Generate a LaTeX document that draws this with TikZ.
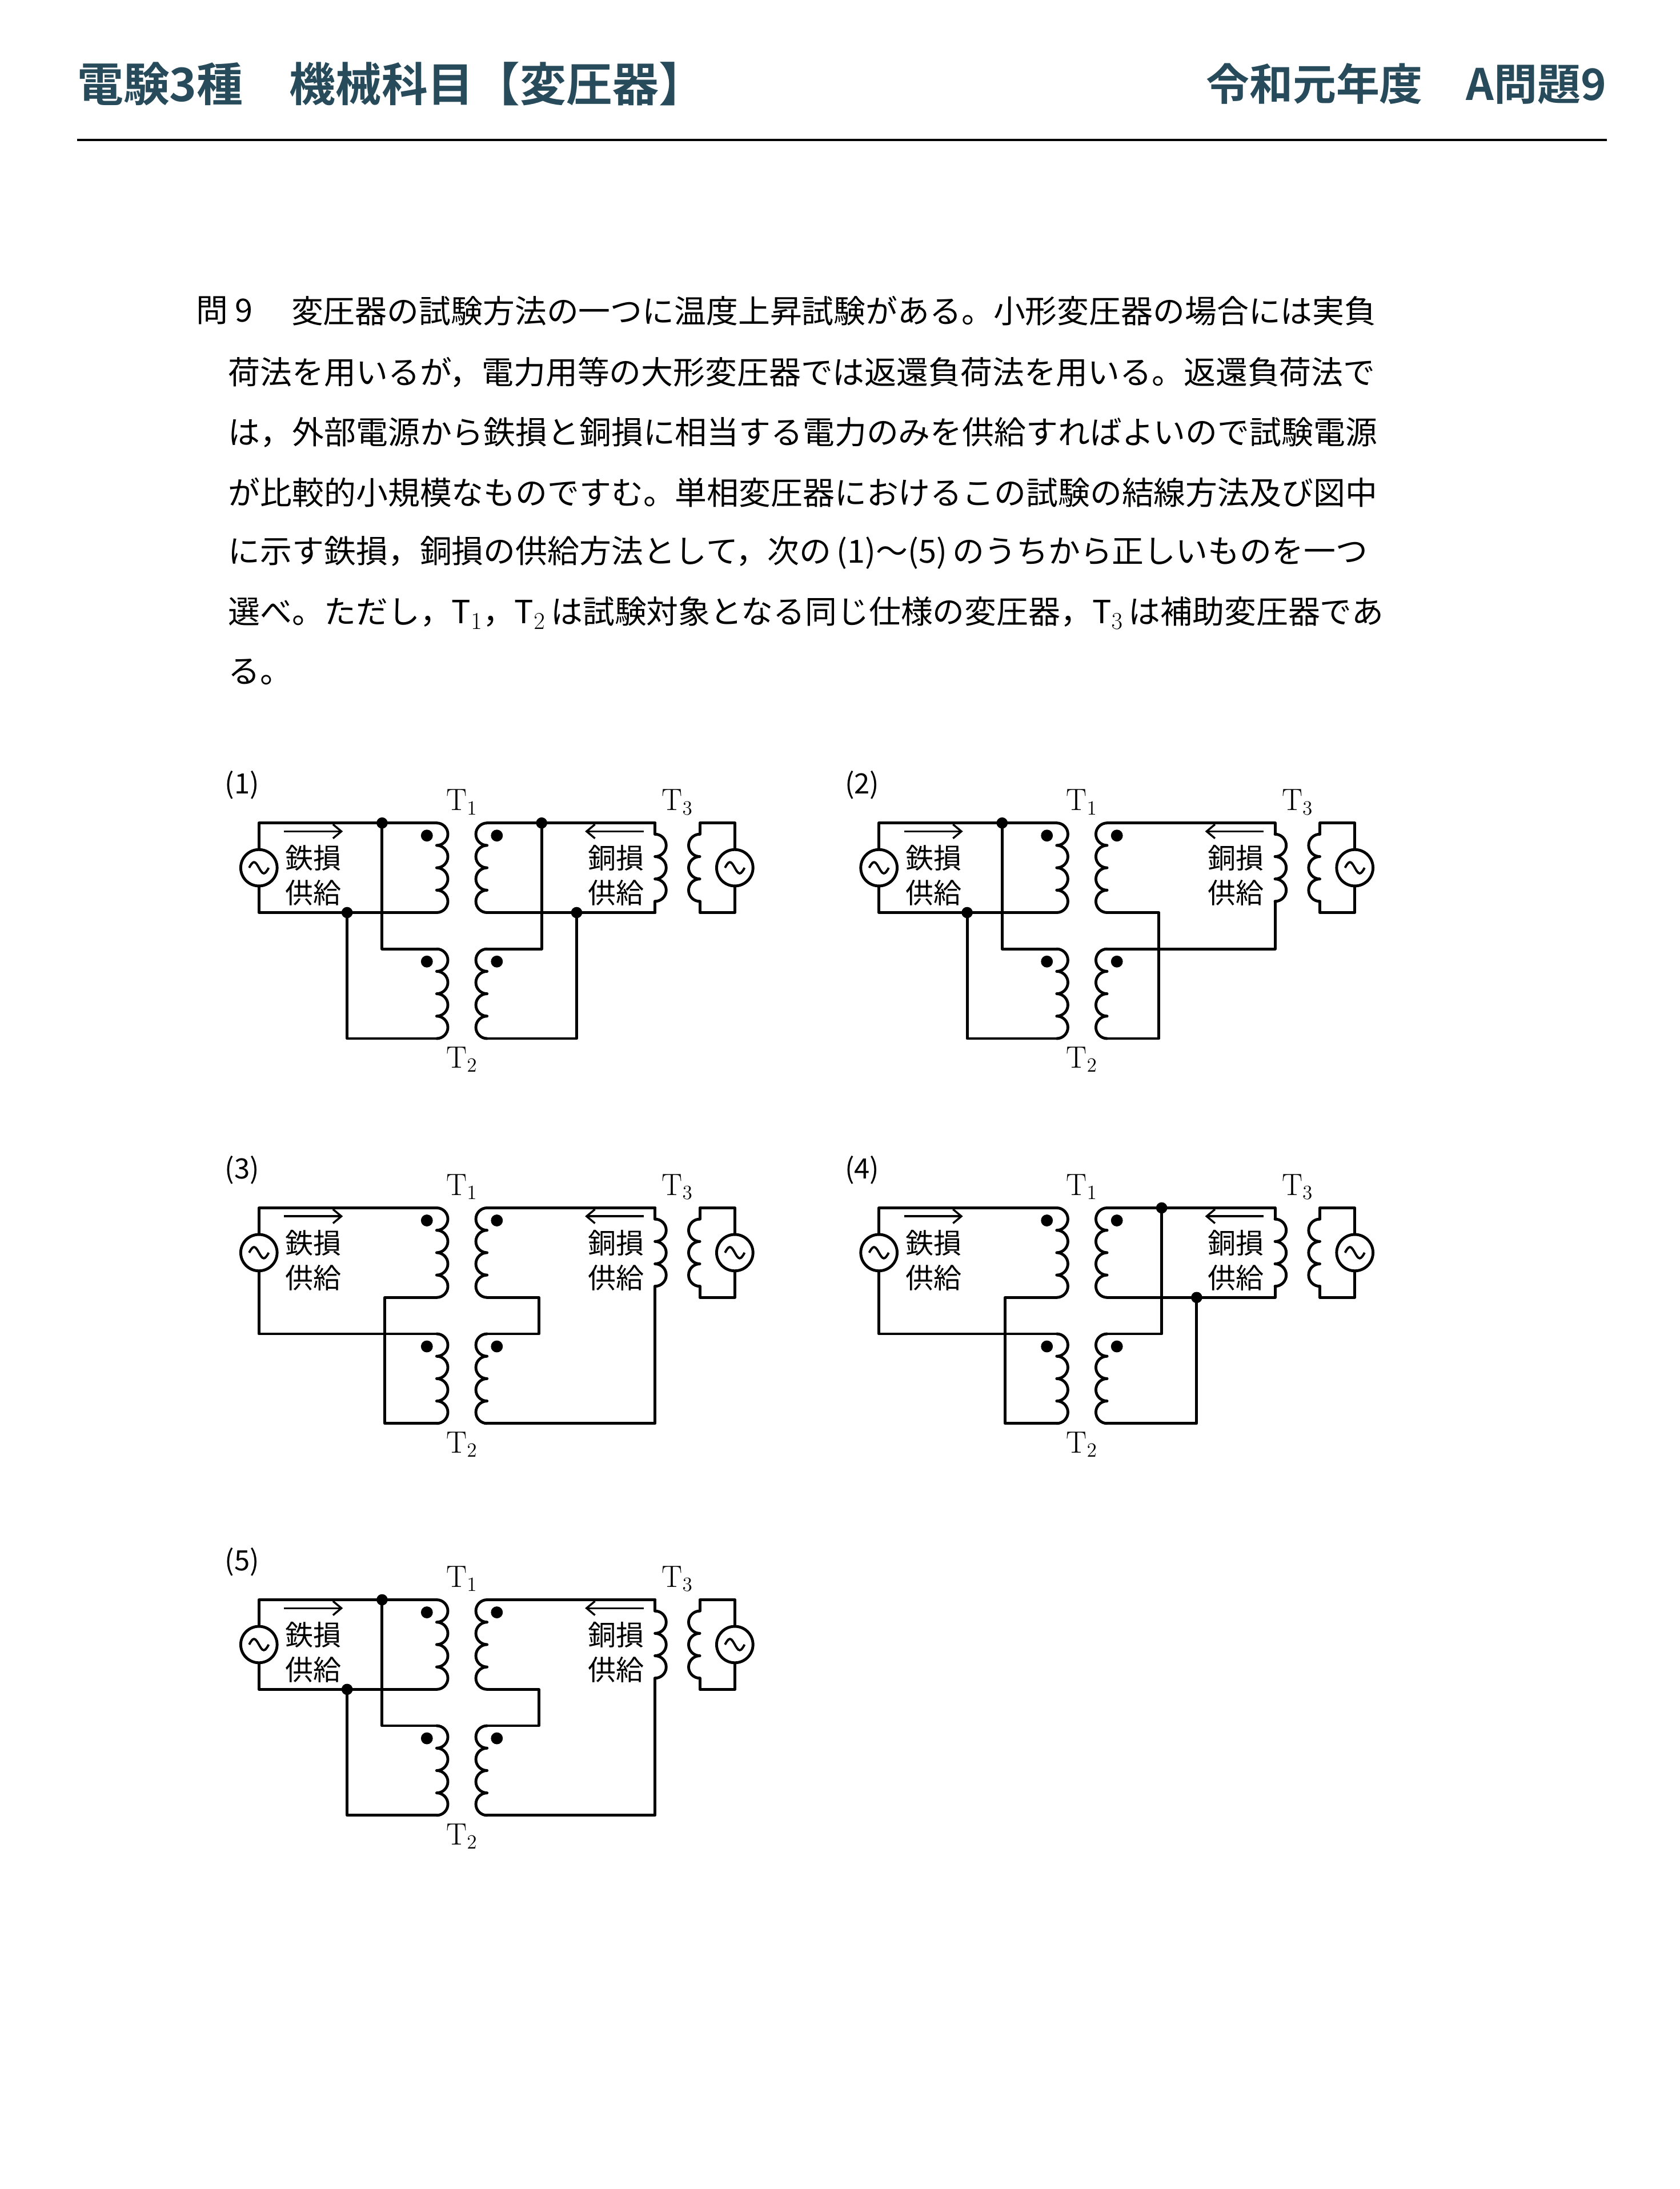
\documentclass[tikz,border=0pt]{standalone}
\usepackage{fontspec}
\usetikzlibrary{arrows.meta,calc}
\newfontfamily\cjk{Noto Sans CJK JP}
\newfontfamily\cjkb{Noto Sans CJK JP Bold}
\definecolor{headblue}{HTML}{274B5A}

\tikzset{
  wire/.style={line width=2pt, line cap=round, line join=round},
  jdot/.style={circle, fill=black, inner sep=0pt, minimum size=8pt},
  pdot/.style={circle, fill=black, inner sep=0pt, minimum size=8.5pt},
  src/.style={circle, draw, fill=white, line width=2pt, minimum size=26pt, inner sep=0pt},
  body/.style={font=\cjk\fontsize{22.8}{26}\selectfont, anchor=west, inner sep=0pt},
  small/.style={font=\cjk\fontsize{20}{22}\selectfont, inner sep=0pt},
  tlab/.style={font=\fontsize{22}{24}\selectfont, inner sep=0pt},
  flow/.style={line width=1.4pt, -{Straight Barb[length=6pt,width=10pt]}}
}

% coil of n humps, bulging right (R) or left (L)
\newcommand\coilR[3]{\draw[wire] (#1,#2) \foreach \k in {1,...,#3}{arc[start angle=-90,end angle=90,radius=8]};}
\newcommand\coilL[3]{\draw[wire] (#1,#2) \foreach \k in {1,...,#3}{arc[start angle=-90,end angle=-270,radius=8]};}
\newcommand\acwave[1]{\draw[line width=1.6pt] ($(#1)+(-7,0)$) sin ++(3.5,-4) cos ++(3.5,4) sin ++(3.5,4) cos ++(3.5,-4);}

% parts shared by every circuit
\newcommand\circuitbase[1]{
  \node[small] (num) at (173,561) {(#1)};
  \node[tlab] (t1) at (330,573) {T$_1$};
  \node[tlab] (t3) at (484,573) {T$_3$};
  \node[tlab] (t2) at (330,757) {T$_2$};
  \coordinate (P1t) at (312,588); \coordinate (P1b) at (312,652);
  \coordinate (S1t) at (348,588); \coordinate (S1b) at (348,652);
  \coordinate (P2t) at (312,678); \coordinate (P2b) at (312,742);
  \coordinate (S2t) at (348,678); \coordinate (S2b) at (348,742);
  \coordinate (T3t) at (468,588); \coordinate (T3b) at (468,652);
  \coilR{312}{588}{4} \coilL{348}{588}{4}
  \coilR{312}{678}{4} \coilL{348}{678}{4}
  \draw[wire] (468,588) -- (468,596); \coilR{468}{596}{3} \draw[wire] (468,644) -- (468,652);
  \draw[wire] (500,596) -- (500,588) -- (525,588) -- (525,652) -- (500,652) -- (500,644);
  \coilL{500}{596}{3}
  \foreach \p in {(305,597),(305,687)} \node[pdot] at \p {};
  \foreach \p in {(355,597),(355,687)} \node[pdot] at \p {};
  \node[small] (fe1) at (224,613) {鉄損};
  \node[small] (fe2) at (224,638) {供給};
  \node[small] (cu1) at (440,613) {銅損};
  \node[small] (cu2) at (440,638) {供給};
  \draw[flow] (203,594) -- (245,594);
  \draw[flow] (460,594) -- (418,594);
}
\newcommand\sources{
  \node[src] (gL) at (185,620) {}; \acwave{gL}
  \node[src] (gR) at (525,620) {}; \acwave{gR}
}
% left side wirings
\newcommand\leftA{
  \draw[wire] (P1t) -- (185,588) -- (185,652) -- (P1b);
  \draw[wire] (273,588) -- (273,678) -- (P2t);
  \draw[wire] (248,652) -- (248,742) -- (P2b);
  \node[jdot] (ja) at (273,588) {}; \node[jdot] (jb) at (248,652) {};
}
\newcommand\leftB{
  \draw[wire] (P1t) -- (185,588) -- (185,678) -- (P2t);
  \draw[wire] (P1b) -- (275,652) -- (275,742) -- (P2b);
}
\newcommand\rightC{
  \draw[wire] (S1t) -- (T3t);
  \draw[wire] (S1b) -- (385,652) -- (385,678) -- (S2t);
  \draw[wire] (S2b) -- (468,742) -- (T3b);
}
\newcommand\rightD{
  \draw[wire] (S1t) -- (T3t); \draw[wire] (S1b) -- (T3b);
  \draw[wire] (387,588) -- (387,678) -- (S2t);
  \draw[wire] (412,652) -- (412,742) -- (S2b);
  \node[jdot] (jc) at (387,588) {}; \node[jdot] (jd) at (412,652) {};
}

\begin{document}
\begin{tikzpicture}[x=1pt,y=-1pt]
  \useasboundingbox[fill=white] (0,0) rectangle (1200,1564);

  % header
  \node[font=\cjkb\fontsize{33}{38}\selectfont, text=headblue, anchor=west, inner sep=0pt] (title) at (55,60) {電験3種　機械科目【変圧器】};
  \node[font=\cjkb\fontsize{31}{36}\selectfont, text=headblue, anchor=east, inner sep=0pt] (year) at (1148,60) {令和元年度　A問題9};
  \draw[line width=2pt] (55,100) -- (1148,100);

  % question
  \node[body] (q0) at (140,222) {問 9};
  \node[body] (q1) at (208,222) {変圧器の試験方法の一つに温度上昇試験がある。小形変圧器の場合には実負};
  \node[body] (q2) at (163,266) {荷法を用いるが，電力用等の大形変圧器では返還負荷法を用いる。返還負荷法で};
  \node[body] (q3) at (163,309) {は，外部電源から鉄損と銅損に相当する電力のみを供給すればよいので試験電源};
  \node[body] (q4) at (163,352) {が比較的小規模なものですむ。単相変圧器におけるこの試験の結線方法及び図中};
  \node[body] (q5) at (163,395) {に示す鉄損，銅損の供給方法として，次の\,(1)～(5)\,のうちから正しいものを一つ};
  \node[body] (q6) at (163,438) {選べ。ただし，T$_1$，T$_2$\,は試験対象となる同じ仕様の変圧器，T$_3$\,は補助変圧器であ};
  \node[body] (q7) at (163,480) {る。};

  % (1)
  \begin{scope}
    \circuitbase{1} \leftA \rightD \sources
  \end{scope}
  % (2)
  \begin{scope}[shift={(443,0)}]
    \circuitbase{2} \leftA
    \draw[wire] (S1t) -- (T3t);
    \draw[wire] (S1b) -- (385,652) -- (385,742) -- (S2b);
    \draw[wire] (S2t) -- (468,678) -- (T3b);
    \sources
  \end{scope}
  % (3)
  \begin{scope}[shift={(0,275)}]
    \circuitbase{3} \leftB \rightC \sources
  \end{scope}
  % (4)
  \begin{scope}[shift={(443,275)}]
    \circuitbase{4} \leftB \rightD \sources
  \end{scope}
  % (5)
  \begin{scope}[shift={(0,555)}]
    \circuitbase{5} \leftA \rightC \sources
  \end{scope}
\end{tikzpicture}
\end{document}
